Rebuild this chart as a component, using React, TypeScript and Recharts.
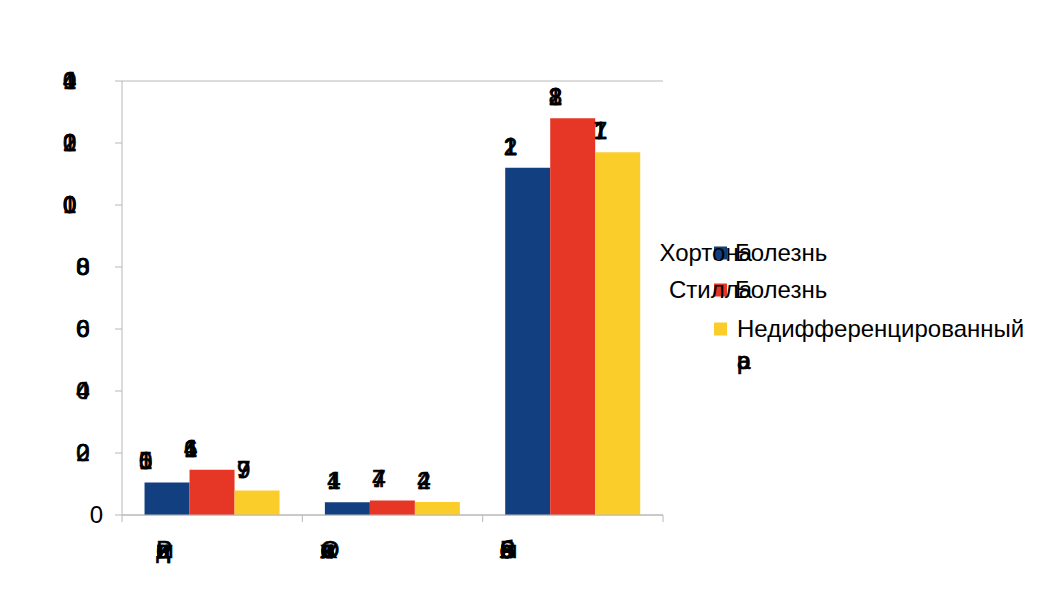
import React from "react";
import { BarChart, Bar, XAxis, YAxis, CartesianGrid, LabelList } from "recharts";

const categories = ["Рецидивы", "Осложнения", "Все больные"];
const hortonValues = [10.5, 4.1, 112];
const stillValues = [14.6, 4.7, 128];
const undiffValues = [7.9, 4.2, 117];
const yTicks = [0, 20, 40, 60, 80, 100, 120, 140];
const seriesKeys = ["horton", "still", "undiff"];
const seriesNames = ["Хортона Болезнь", "Стилла Болезнь", "Недифференцированный ра"];
const seriesColors = ["#123f80", "#e53626", "#fbcd2b"];

const data = categories.map((c, i) => ({
  name: c,
  horton: hortonValues[i],
  still: stillValues[i],
  undiff: undiffValues[i],
}));

const FONT = "'Liberation Sans', Arial, sans-serif";
const FS = 24;
const GRID = "#b8b8b8";

const charW = (c: string) => {
  if (".,/ ".includes(c)) return 0.278;
  if (/[0-9]/.test(c)) return 0.556;
  if ("жфшщыюЖФШЩЫЮМмОЭ".includes(c)) return 0.75;
  return 0.56;
};
const textWidth = (s: string, fs: number) => [...s].reduce((a, c) => a + charW(c) * fs, 0);

// draws every character of a string at the same start position (as in the reference)
const OverText = ({ x, y, text, fs = FS }: { x: number; y: number; text: string; fs?: number }) => {
  const chars = [...text].filter((c) => c !== " ");
  const heavy = chars.length > 1;
  return (
    <g>
      {chars.map((c, i) => (
        <text
          key={i}
          x={x}
          y={y}
          fontFamily={FONT}
          fontSize={fs}
          fill="#000"
          stroke={heavy ? "#000" : "none"}
          strokeWidth={heavy ? 0.7 : 0}
        >
          {c}
        </text>
      ))}
    </g>
  );
};

const YTick = (props: any) => {
  const { x, y, payload } = props;
  const s = String(payload.value);
  const w = textWidth(s, FS);
  return <OverText x={x - w} y={y + 8} text={s} />;
};

const XTick = (props: any) => {
  const { x, y, payload, index } = props;
  const half = payload && payload.offset ? payload.offset : 90;
  const s = String(payload.value);
  const w = textWidth(s, FS);
  return (
    <g>
      <line x1={x - half} x2={x - half} y1={y - 7} y2={y} stroke={GRID} strokeWidth={1} />
      {index === categories.length - 1 && (
        <line x1={x + half} x2={x + half} y1={y - 7} y2={y} stroke={GRID} strokeWidth={1} />
      )}
      <OverText x={x - w / 2} y={y + 36} text={s} />
    </g>
  );
};

const BarLabel = (props: any) => {
  const { x, y, width, value } = props;
  const s = String(value);
  const w = textWidth(s, FS);
  return <OverText x={x + width / 2 - w * 0.6} y={y - 13} text={s} />;
};

const LegendOverlay = () => {
  const rowY = [253, 290, 329];
  return (
    <svg width={1049} height={601} style={{ position: "absolute", left: 0, top: 0, pointerEvents: "none" }}>
      {seriesNames.map((name, i) => {
        const parts = name.split(" ");
        const cy = rowY[i];
        return (
          <g key={i}>
            <rect x={714} y={cy - 6.5} width={13} height={13} fill={seriesColors[i]} />
            {i < 2 ? (
              <>
                <text x={752} y={cy + 8} textAnchor="end" fontFamily={FONT} fontSize={FS} fill="#000">
                  {parts[0]}
                </text>
                <text x={735} y={cy + 8} fontFamily={FONT} fontSize={FS} fill="#000">
                  {parts[1]}
                </text>
              </>
            ) : (
              <>
                <text x={737} y={cy + 8} fontFamily={FONT} fontSize={FS} fill="#000">
                  {parts[0]}
                </text>
                <OverText x={737} y={cy + 40} text={parts[1]} />
              </>
            )}
          </g>
        );
      })}
    </svg>
  );
};

export default function App() {
  return (
    <div style={{ position: "absolute", left: 0, top: 0, width: 1049, height: 601, background: "#fff" }}>
      <BarChart
        width={1049}
        height={601}
        data={data}
        margin={{ top: 81, right: 386, bottom: 46, left: 0 }}
        barCategoryGap="12.5%"
        barGap={0}
      >
        <CartesianGrid vertical={false} stroke={GRID} />
        <YAxis
          yAxisId="l"
          width={122}
          domain={[0, 140]}
          ticks={yTicks}
          interval={0}
          tick={<YTick />}
          tickSize={7}
          tickMargin={12}
          tickLine={{ stroke: GRID }}
          axisLine={{ stroke: GRID }}
        />
        <YAxis
          yAxisId="r"
          orientation="right"
          width={0}
          domain={[0, 140]}
          tick={false}
          tickLine={false}
          axisLine={{ stroke: GRID }}
        />
        <XAxis
          dataKey="name"
          height={40}
          interval={0}
          tick={<XTick />}
          tickSize={7}
          tickMargin={0}
          tickLine={false}
          axisLine={{ stroke: GRID }}
        />
        {seriesKeys.map((k, i) => (
          <Bar key={k} yAxisId="l" dataKey={k} name={seriesNames[i]} fill={seriesColors[i]} isAnimationActive={false}>
            <LabelList dataKey={k} content={<BarLabel />} />
          </Bar>
        ))}
      </BarChart>
      <LegendOverlay />
    </div>
  );
}
